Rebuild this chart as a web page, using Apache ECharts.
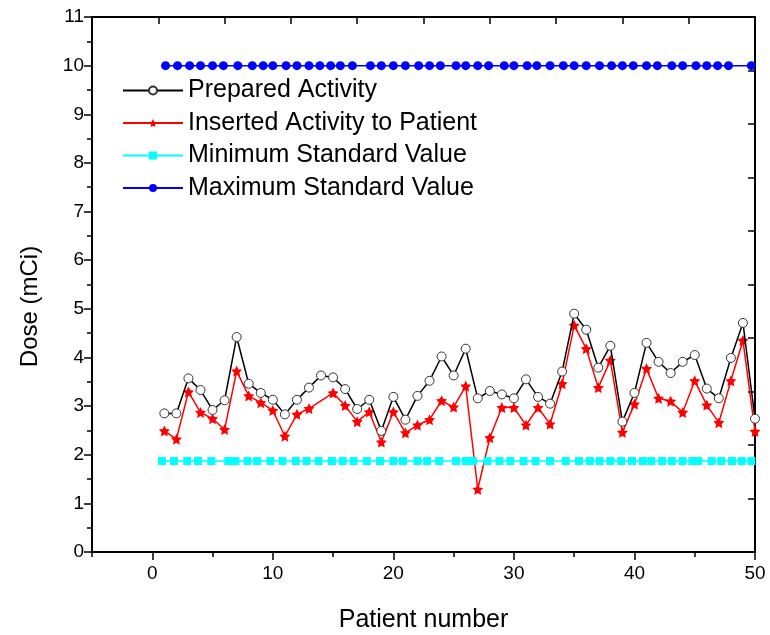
<!DOCTYPE html>
<html>
<head>
<meta charset="utf-8">
<script src="https://cdn.jsdelivr.net/npm/echarts@6/dist/echarts.min.js"></script>
<style>
  html, body { margin: 0; padding: 0; background: #fff; }
  #chart { width: 770px; height: 635px; }
</style>
</head>
<body>
<div id="chart"></div>
<script>
// patient numbers and measured doses (mCi)
var patients = [1, 2, 3, 4, 5, 6, 7, 8, 9, 10, 11, 12, 13, 14, 15, 16, 17, 18, 19, 20,
    21, 22, 23, 24, 25, 26, 27, 28, 29, 30, 31, 32, 33, 34, 35, 36, 37, 38, 39, 40,
    41, 42, 43, 44, 45, 46, 47, 48, 49, 50];
var prepared = [2.85, 2.85, 3.57, 3.33, 2.92, 3.12, 4.42, 3.46, 3.27, 3.13,
    2.83, 3.13, 3.38, 3.63, 3.59, 3.35, 2.94, 3.13, 2.49, 3.19,
    2.72, 3.21, 3.52, 4.02, 3.63, 4.18, 3.16, 3.31, 3.24, 3.16,
    3.55, 3.19, 3.05, 3.71, 4.90, 4.57, 3.79, 4.24, 2.68, 3.27,
    4.30, 3.91, 3.68, 3.91, 4.05, 3.36, 3.16, 3.99, 4.71, 2.74];
var inserted = [2.49, 2.32, 3.29, 2.87, 2.74, 2.52, 3.72, 3.21, 3.07, 2.91,
    2.38, 2.83, 2.95, null, 3.27, 3.01, 2.68, 2.88, 2.26, 2.88,
    2.45, 2.61, 2.72, 3.11, 2.98, 3.41, 1.29, 2.35, 2.97, 2.97,
    2.61, 2.97, 2.63, 3.46, 4.66, 4.18, 3.38, 3.94, 2.46, 3.04,
    3.77, 3.16, 3.10, 2.87, 3.52, 3.02, 2.66, 3.52, 4.35, 2.48];

// standard limits, with the x positions of their markers as drawn
var minValue = 1.87;
var minX = [0.8, 1.8, 2.9, 3.8, 4.9, 6.3, 6.9, 7.9, 8.7, 9.8, 10.8, 11.9, 12.8, 13.8,
    14.9, 15.8, 16.7, 17.8, 18.9, 20.0, 20.8, 22.0, 22.8, 23.8, 25.2, 26.0, 26.6,
    27.8, 28.8, 29.7, 30.8, 31.8, 33.0, 34.3, 35.4, 36.3, 37.1, 38.0, 38.9, 39.8,
    40.7, 41.4, 42.3, 43.1, 44.0, 44.8, 45.3, 46.4, 47.2, 48.1, 48.9, 49.7];
var maxValue = 10;
var maxX = [1.1, 2.1, 3.1, 4.0, 5.0, 5.9, 7.1, 8.3, 9.2, 10.0, 11.1, 12.0, 13.0, 13.9,
    14.8, 15.6, 16.6, 18.1, 19.0, 20.0, 21.0, 22.1, 23.0, 23.9, 25.2, 26.0, 27.0,
    27.9, 29.2, 30.0, 31.1, 31.9, 33.0, 34.1, 35.0, 36.0, 37.1, 38.1, 39.0, 39.9,
    41.0, 41.9, 43.1, 44.0, 45.1, 46.0, 46.9, 47.8, 49.7];

var xTickLabels = [0, 10, 20, 30, 40, 50];
var xMinorTicks = [-5, 5, 15, 25, 35, 45];

var starPath = 'path://M0,-10L2.94,-4.05L9.51,-3.09L4.76,1.55L5.88,8.09L0,5L-5.88,8.09L-4.76,1.55L-9.51,-3.09L-2.94,-4.05Z';
var tickFont = 'Liberation Sans, Arial, sans-serif';

function pairs(xs, ys) {
    return xs.map(function (x, i) { return [x, ys[i]]; });
}
function flat(xs, v) {
    return xs.map(function (x) { return [x, v]; });
}

var frameLine = { show: true, onZero: false, lineStyle: { color: '#000', width: 2 } };

var chart = echarts.init(document.getElementById('chart'));
chart.setOption({
    animation: false,
    backgroundColor: '#fff',
    grid: { left: 92, right: 15, top: 17, bottom: 83, outerBoundsMode: 'none' },
    legend: {
        orient: 'vertical',
        left: 117,
        top: 72,
        itemWidth: 60,
        itemHeight: 10,
        itemGap: 5.5,
        textStyle: { fontFamily: 'Liberation Sans, Arial, sans-serif', fontSize: 25, color: '#000', lineHeight: 27 },
        data: ['Prepared Activity', 'Inserted Activity to Patient', 'Minimum Standard Value', 'Maximum Standard Value']
    },
    xAxis: [{
        type: 'value', position: 'bottom', min: -5, max: 50,
        name: 'Patient number', nameLocation: 'middle', nameGap: 56,
        nameTextStyle: { fontFamily: tickFont, fontSize: 25, color: '#000' },
        axisLine: frameLine,
        axisTick: { customValues: xTickLabels, length: 8, lineStyle: { color: '#000', width: 1.5 } },
        axisLabel: { customValues: xTickLabels, fontFamily: tickFont, fontSize: 19, color: '#000', margin: 12 },
        splitLine: { show: false }
    }, {
        type: 'value', position: 'top', min: 0, max: 10, interval: 1,
        axisLine: frameLine,
        axisTick: { inside: true, length: 7, lineStyle: { color: '#000', width: 1.5 } },
        axisLabel: { show: false },
        splitLine: { show: false }
    }, {
        type: 'value', position: 'bottom', min: -5, max: 50,
        axisLine: { show: false },
        axisTick: { customValues: xMinorTicks, length: 5, lineStyle: { color: '#000', width: 1.5 } },
        axisLabel: { show: false },
        splitLine: { show: false }
    }],
    yAxis: [{
        type: 'value', position: 'left', min: 0, max: 11, interval: 1,
        name: 'Dose (mCi)', nameLocation: 'middle', nameGap: 50,
        nameTextStyle: { fontFamily: tickFont, fontSize: 24, color: '#000', padding: [0, 44, 0, 0] },
        axisLine: frameLine,
        axisTick: { length: 8, lineStyle: { color: '#000', width: 1.5 } },
        minorTick: { show: true, splitNumber: 2, length: 5, lineStyle: { color: '#000', width: 1.5 } },
        axisLabel: { fontFamily: tickFont, fontSize: 19, color: '#000', margin: 8 },
        splitLine: { show: false },
        minorSplitLine: { show: false }
    }, {
        type: 'value', position: 'right', min: 0, max: 10, interval: 1,
        axisLine: frameLine,
        axisTick: { inside: true, length: 7, lineStyle: { color: '#000', width: 1.5 } },
        axisLabel: { show: false },
        splitLine: { show: false }
    }],
    series: [{
        name: 'Prepared Activity', type: 'line',
        data: pairs(patients, prepared),
        symbol: 'circle', symbolSize: 9, showAllSymbol: true,
        lineStyle: { color: '#000', width: 1.5 },
        itemStyle: { color: '#fff', borderColor: '#333', borderWidth: 1 },
        z: 4
    }, {
        name: 'Inserted Activity to Patient', type: 'line',
        data: pairs(patients, inserted), connectNulls: true,
        symbol: starPath, symbolSize: 11, showAllSymbol: true,
        lineStyle: { color: '#f00', width: 1.5 },
        itemStyle: { color: '#f00' },
        z: 3
    }, {
        name: 'Minimum Standard Value', type: 'line',
        data: flat(minX, minValue),
        symbol: 'rect', symbolSize: 8, showAllSymbol: true,
        lineStyle: { color: '#00ffff', width: 1.5 },
        itemStyle: { color: '#00ffff' }
    }, {
        name: 'Maximum Standard Value', type: 'line',
        data: flat(maxX, maxValue),
        symbol: 'circle', symbolSize: 9, showAllSymbol: true,
        lineStyle: { color: '#0000ff', width: 1.5 },
        itemStyle: { color: '#0000ff' }
    }]
});
</script>
</body>
</html>
